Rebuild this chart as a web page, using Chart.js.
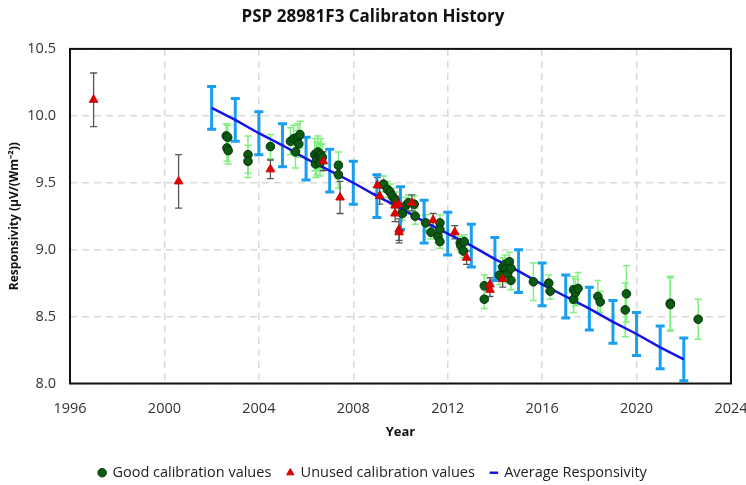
<!DOCTYPE html>
<html>
<head>
<meta charset="utf-8">
<script src="https://cdn.jsdelivr.net/npm/chart.js@4.4.1/dist/chart.umd.min.js"></script>
<style>
  html, body { margin: 0; padding: 0; background: #fff; }
  #wrap { width: 746px; height: 485px; position: relative; }
</style>
</head>
<body>
<div id="wrap"><canvas id="chart"></canvas></div>
<script>
// Good calibration values (decimal year, responsivity, +/- uncertainty)
const goodYears = [
  2002.62, 2002.68, 2002.65, 2002.70, 2003.54, 2003.54, 2004.49,
  2005.34, 2005.48, 2005.55, 2005.65, 2005.69, 2005.74,
  2006.37, 2006.40, 2006.45, 2006.50, 2006.55, 2006.59, 2006.62, 2006.69,
  2007.37, 2007.37,
  2009.28, 2009.45, 2009.56, 2009.66, 2009.77,
  2010.08, 2010.23, 2010.34, 2010.58, 2010.62,
  2011.07, 2011.29, 2011.58, 2011.67, 2011.67, 2011.67,
  2012.53, 2012.56, 2012.66, 2012.70,
  2013.55, 2013.55,
  2014.19, 2014.33, 2014.43, 2014.47, 2014.54, 2014.61, 2014.68, 2014.68,
  2015.63, 2016.28, 2016.34,
  2017.33, 2017.33, 2017.41, 2017.52,
  2018.36, 2018.46, 2019.52, 2019.57, 2021.43, 2021.43, 2022.61
];
const goodValues = [
  9.85, 9.84, 9.76, 9.74, 9.71, 9.66, 9.77,
  9.81, 9.83, 9.73, 9.84, 9.79, 9.86,
  9.71, 9.64, 9.68, 9.73, 9.70, 9.65, 9.71, 9.69,
  9.63, 9.56,
  9.49, 9.45, 9.43, 9.40, 9.37,
  9.27, 9.33, 9.35, 9.34, 9.25,
  9.20, 9.13, 9.10, 9.20, 9.15, 9.06,
  9.05, 9.03, 8.99, 9.06,
  8.73, 8.63,
  8.81, 8.87, 8.89, 8.86, 8.82, 8.91, 8.86, 8.77,
  8.76, 8.75, 8.69,
  8.70, 8.63, 8.68, 8.71,
  8.65, 8.61, 8.55, 8.67, 8.60, 8.59, 8.48
];
const goodErrors = [
  0.09, 0.09, 0.10, 0.10, 0.14, 0.12, 0.09,
  0.10, 0.10, 0.12, 0.10, 0.10, 0.10,
  0.12, 0.10, 0.12, 0.12, 0.10, 0.10, 0.12, 0.10,
  0.10, 0.10,
  0.06, 0.06, 0.06, 0.06, 0.06,
  0.05, 0.06, 0.06, 0.06, 0.06,
  0.06, 0.05, 0.05, 0.06, 0.06, 0.05,
  0.05, 0.05, 0.05, 0.05,
  0.08, 0.07,
  0.07, 0.07, 0.07, 0.07, 0.07, 0.07, 0.07, 0.07,
  0.14, 0.06, 0.06,
  0.10, 0.10, 0.10, 0.12,
  0.12, 0.08, 0.20, 0.21, 0.20, 0.20, 0.15
];

// Unused calibration values
const unusedYears = [
  1997.00, 2000.60, 2004.49, 2006.73, 2007.44,
  2009.02, 2009.12, 2009.77, 2009.92, 2009.77, 2009.94, 2009.94,
  2010.48, 2011.38, 2012.30, 2012.80, 2013.79, 2013.79, 2014.33
];
const unusedValues = [
  10.12, 9.51, 9.60, 9.66, 9.39,
  9.48, 9.40, 9.33, 9.34, 9.27, 9.15, 9.13,
  9.35, 9.22, 9.13, 8.94, 8.74, 8.70, 8.78
];
const unusedErrors = [
  0.20, 0.20, 0.07, 0.07, 0.12,
  0.06, 0.06, 0.06, 0.06, 0.06, 0.08, 0.08,
  0.06, 0.05, 0.05, 0.05, 0.05, 0.05, 0.06
];

// Average responsivity, yearly
const avgYears = [
  2002, 2003, 2004, 2005, 2006, 2007, 2008, 2009, 2010, 2011, 2012,
  2013, 2014, 2015, 2016, 2017, 2018, 2019, 2020, 2021, 2022
];
const avgValues = [
  10.06, 9.97, 9.87, 9.78, 9.68, 9.59, 9.50, 9.40, 9.31, 9.21, 9.12,
  9.03, 8.93, 8.84, 8.74, 8.65, 8.56, 8.46, 8.37, 8.27, 8.18
];
const avgErrors = [
  0.16, 0.16, 0.16, 0.16, 0.16, 0.16, 0.16, 0.16, 0.16, 0.16, 0.16,
  0.16, 0.16, 0.16, 0.16, 0.16, 0.16, 0.16, 0.16, 0.16, 0.16
];

const xTicks = [1996, 2000, 2004, 2008, 2012, 2016, 2020, 2024];

const FONT = "'Open Sans', 'Liberation Sans', sans-serif";

function toPoints(xs, ys) {
  return xs.map((x, i) => ({ x: x, y: ys[i] }));
}

// draws vertical error bars with caps, behind the markers
const errorBars = {
  id: "errorBars",
  beforeDatasetsDraw(chart) {
    const ctx = chart.ctx;
    const xs = chart.scales.x;
    const ys = chart.scales.y;
    chart.data.datasets.forEach((ds) => {
      if (!ds.errors) return;
      ctx.save();
      ctx.strokeStyle = ds.errorColor;
      ctx.lineWidth = ds.errorWidth;
      ds.data.forEach((p, i) => {
        const px = xs.getPixelForValue(p.x);
        const top = ys.getPixelForValue(p.y + ds.errors[i]);
        const bot = ys.getPixelForValue(p.y - ds.errors[i]);
        const c = ds.capWidth / 2;
        ctx.beginPath();
        ctx.moveTo(px, top);
        ctx.lineTo(px, bot);
        ctx.moveTo(px - c, top);
        ctx.lineTo(px + c, top);
        ctx.moveTo(px - c, bot);
        ctx.lineTo(px + c, bot);
        ctx.stroke();
      });
      ctx.restore();
    });
  },
};

// black frame round the plot area
const frame = {
  id: "frame",
  afterDraw(chart) {
    const a = chart.chartArea;
    const ctx = chart.ctx;
    ctx.save();
    ctx.strokeStyle = "#111";
    ctx.lineWidth = 2;
    ctx.strokeRect(a.left, a.top, a.right - a.left, a.bottom - a.top);
    ctx.restore();
  },
};

new Chart(document.getElementById("chart"), {
  type: "scatter",
  data: {
    datasets: [
      {
        label: "Good calibration values",
        data: toPoints(goodYears, goodValues),
        errors: goodErrors,
        errorColor: "#7df07d",
        errorWidth: 1.5,
        capWidth: 7,
        pointStyle: "circle",
        pointRadius: 4.3,
        backgroundColor: "#0b5a12",
        borderColor: "#06320a",
        borderWidth: 1,
        order: 1,
      },
      {
        label: "Unused calibration values",
        data: toPoints(unusedYears, unusedValues),
        errors: unusedErrors,
        errorColor: "#555",
        errorWidth: 1.3,
        capWidth: 7,
        pointStyle: "triangle",
        pointRadius: 5,
        backgroundColor: "#e00000",
        borderColor: "#d00000",
        borderWidth: 1,
        order: 0,
      },
      {
        type: "line",
        label: "Average Responsivity",
        data: toPoints(avgYears, avgValues),
        errors: avgErrors,
        errorColor: "#1a9ff0",
        errorWidth: 3,
        capWidth: 9,
        pointStyle: "line",
        borderColor: "#1414e6",
        backgroundColor: "#1414e6",
        borderWidth: 2.5,
        pointRadius: 0,
        order: 2,
      },
    ],
  },
  options: {
    responsive: true,
    maintainAspectRatio: false,
    animation: false,
    layout: { padding: { top: 0, right: 0, bottom: -5, left: 0 } },
    plugins: {
      title: {
        display: true,
        text: "PSP 28981F3 Calibraton History",
        color: "#111",
        font: { family: FONT, size: 17, weight: "bold" },
        padding: { top: 7, bottom: 21.5 },
      },
      legend: {
        position: "bottom",
        labels: {
          usePointStyle: true,
          boxWidth: 6,
          boxHeight: 6,
          color: "#222",
          padding: 16,
          font: { family: FONT, size: 14.5 },
          sort: (a, b) => a.datasetIndex - b.datasetIndex,
        },
      },
      tooltip: { enabled: false },
    },
    scales: {
      x: {
        type: "linear",
        min: 1996,
        max: 2024,
        afterBuildTicks: (scale) => {
          scale.ticks = xTicks.map((v) => ({ value: v }));
        },
        afterFit: (scale) => {
          scale.paddingRight = 15;
        },
        ticks: {
          color: "#333",
          font: { family: FONT, size: 14.5 },
          padding: 17,
          callback: (v) => String(v),
        },
        grid: { color: "#d9d9d9", lineWidth: 1.5, drawTicks: false },
        border: { display: false, dash: [7, 5] },
        title: {
          display: true,
          text: "Year",
          color: "#111",
          font: { family: FONT, size: 13, weight: "bold" },
          padding: { top: -10, bottom: 9 },
        },
      },
      y: {
        min: 8,
        max: 10.5,
        ticks: {
          stepSize: 0.5,
          color: "#333",
          font: { family: FONT, size: 14.5 },
          padding: 14,
          callback: (v) => v.toFixed(1),
        },
        grid: { color: "#d9d9d9", lineWidth: 1.5, drawTicks: false },
        border: { display: false, dash: [7, 5] },
        title: {
          display: true,
          text: "Responsivity (µV/(Wm⁻²))",
          color: "#111",
          font: { family: FONT, size: 12, weight: "bold" },
          padding: { top: 7, bottom: 4 },
        },
        afterFit: (scale) => {
          scale.width = 70;
        },
      },
    },
  },
  plugins: [errorBars, frame],
});
</script>
</body>
</html>
